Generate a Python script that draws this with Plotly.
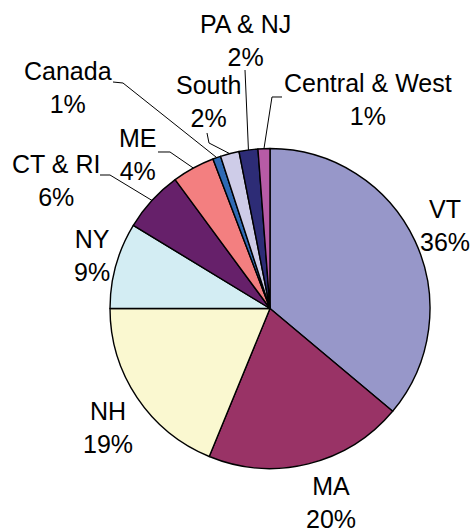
import plotly.graph_objects as go
import math

# ---- data ----
regions = ["VT", "MA", "NH", "NY", "CT & RI", "ME", "Canada", "South", "PA & NJ", "Central & West"]
shares = [36.1, 20.1, 18.8, 8.7, 6.2, 4.3, 0.8, 1.9, 1.9, 1.2]

# ---- style ----
colors = ["#9797C9", "#993366", "#FAF8D0", "#D3EDF3", "#66206A",
          "#F37F80", "#2F6AB4", "#CECCE8", "#2D2C76", "#B75BA6"]
W, H = 470, 531
CX, CY, R = 270, 308.5, 160  # pie centre / radius in pixels

# label block centres (pixels) and leader-line start/elbow points (pixels)
label_pos = {
    "VT": (445, 225), "MA": (331, 502), "NH": (108, 427), "NY": (92, 255),
    "CT & RI": (56, 180), "ME": (138, 155), "Canada": (68, 88),
    "South": (208, 101), "PA & NJ": (245, 40), "Central & West": (368, 100),
}
leaders = {
    "CT & RI": [(100, 175), (110, 175)],
    "ME": [(158, 152), (170, 152)],
    "Canada": [(113, 82), (123, 83)],
    "South": [(207, 133), (209, 143)],
    "PA & NJ": [(245, 70)],
    "Central & West": [(282, 97), (272, 97)],
}

def px(x, y):
    return x / W, 1 - y / H

fig = go.Figure()
x0, y1 = px(CX - R, CY - R)
x1, y0 = px(CX + R, CY + R)
fig.add_trace(go.Pie(
    labels=regions, values=shares, sort=False, direction="clockwise", rotation=0,
    marker=dict(colors=colors, line=dict(color="black", width=1.4)),
    textinfo="none", hoverinfo="label+percent", showlegend=False,
    domain=dict(x=[x0, x1], y=[y0, y1]),
))

total = sum(shares)
cum = 0.0
annotations, shapes = [], []
for name, v in zip(regions, shares):
    mid = (cum + v / 2) / total * 2 * math.pi
    cum += v
    pct = round(v / total * 100)
    lx, ly = label_pos[name]
    ax, ay = px(lx, ly)
    annotations.append(dict(
        x=ax, y=ay, xref="paper", yref="paper", xanchor="center", yanchor="middle",
        text=f"{name}<br>{pct}%", showarrow=False, align="center",
        font=dict(family="Liberation Sans, Arial", size=25, color="black"),
    ))
    if name in leaders:
        ex = CX + R * math.sin(mid)
        ey = CY - R * math.cos(mid)
        pts = leaders[name] + [(ex, ey)]
        path = ""
        for i, (x, y) in enumerate(pts):
            qx, qy = px(x, y)
            path += ("M" if i == 0 else " L") + f" {qx:.5f} {qy:.5f}"
        shapes.append(dict(type="path", path=path, xref="paper", yref="paper",
                           line=dict(color="black", width=1)))

fig.update_layout(
    width=W, height=H, margin=dict(l=0, r=0, t=0, b=0),
    paper_bgcolor="white", plot_bgcolor="white",
    annotations=annotations, shapes=shapes,
)
fig.write_html("out.html", config={"displayModeBar": False},
               post_script="document.body.style.margin='0';document.body.style.overflow='hidden';")
